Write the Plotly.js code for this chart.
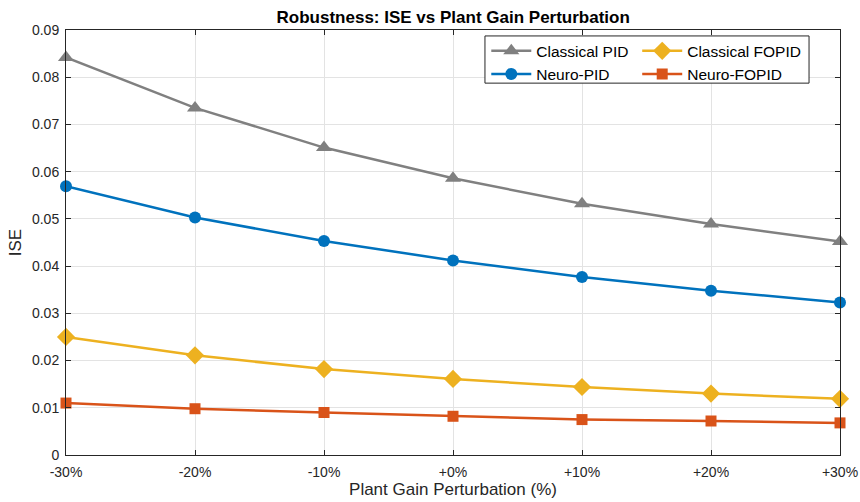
<!DOCTYPE html>
<html>
<head>
<meta charset="utf-8">
<script src="https://cdn.plot.ly/plotly-3.0.1.min.js"></script>
<style>
  html, body { margin: 0; padding: 0; background: #ffffff; }
  #chart { width: 860px; height: 502px; }
</style>
</head>
<body>
<div id="chart"></div>
<script>
// Plant gain perturbation levels (%) and their tick labels
const perturbation = [-30, -20, -10, 0, 10, 20, 30];
const tickLabels = ['-30%', '-20%', '-10%', '+0%', '+10%', '+20%', '+30%'];

// Integral of squared error for each controller
const classicalPID   = [0.0842, 0.0735, 0.0651, 0.0586, 0.0532, 0.0489, 0.0452];
const neuroPID       = [0.0569, 0.0503, 0.0453, 0.0412, 0.0377, 0.0348, 0.0323];
const classicalFOPID = [0.0250, 0.0211, 0.0182, 0.0161, 0.0144, 0.0130, 0.0119];
const neuroFOPID     = [0.0110, 0.0098, 0.0090, 0.0082, 0.0075, 0.0072, 0.0068];

const FONT = 'Liberation Sans, Arial, Helvetica, sans-serif';

function series(name, y, color, symbol, size, legend) {
  return {
    type: 'scatter', mode: 'lines+markers', name: name,
    x: perturbation, y: y,
    line: { color: color, width: 2.5 },
    marker: { color: color, symbol: symbol, size: size, line: { width: 0 } },
    cliponaxis: false,
    legend: legend
  };
}

const traces = [
  series('Classical PID', classicalPID, '#808080', 'triangle-up', 14, 'legend'),
  series('Neuro-PID', neuroPID, '#0072BD', 'circle', 12, 'legend'),
  series('Classical FOPID', classicalFOPID, '#EDB120', 'diamond', 14, 'legend2'),
  series('Neuro-FOPID', neuroFOPID, '#D95319', 'square', 11, 'legend2')
];

const axisCommon = {
  showline: true, linecolor: '#262626', linewidth: 1, mirror: 'ticks',
  ticks: 'inside', ticklen: 5, tickcolor: '#262626', tickwidth: 1,
  showgrid: true, gridcolor: '#e3e3e3', gridwidth: 1,
  zeroline: false,
  tickfont: { family: FONT, size: 14, color: '#262626' }
};

const layout = {
  width: 860, height: 502,
  margin: { l: 66, r: 20, t: 30, b: 47 },
  paper_bgcolor: '#ffffff', plot_bgcolor: '#ffffff',
  title: {
    text: '<b>Robustness: ISE vs Plant Gain Perturbation</b>',
    font: { family: FONT, size: 17, color: '#000000' },
    x: 0.527, xanchor: 'center', y: 0.966, yanchor: 'middle'
  },
  xaxis: Object.assign({}, axisCommon, {
    range: [-30, 30],
    tickmode: 'array', tickvals: perturbation, ticktext: tickLabels,
    ticklabelstandoff: 4,
    title: { text: 'Plant Gain Perturbation (%)', font: { family: FONT, size: 17, color: '#262626' }, standoff: 3 }
  }),
  yaxis: Object.assign({}, axisCommon, {
    range: [0, 0.09], dtick: 0.01, tick0: 0,
    ticklabelstandoff: 3,
    title: { text: 'ISE', font: { family: FONT, size: 17, color: '#262626' }, standoff: 6 }
  }),
  showlegend: true,
  legend: {
    x: 0.543, xanchor: 'left', y: 0.99, yanchor: 'top',
    bgcolor: 'rgba(0,0,0,0)', borderwidth: 0,
    font: { family: FONT, size: 15.5, color: '#000000' },
    itemwidth: 40, tracegroupgap: 0
  },
  legend2: {
    x: 0.738, xanchor: 'left', y: 0.99, yanchor: 'top',
    bgcolor: 'rgba(0,0,0,0)', borderwidth: 0,
    font: { family: FONT, size: 15.5, color: '#000000' },
    itemwidth: 40, tracegroupgap: 0
  },
  shapes: [{
    type: 'rect', xref: 'paper', yref: 'paper',
    x0: 0.5413, x1: 0.960, y0: 0.875, y1: 0.986,
    line: { color: '#262626', width: 1 }, fillcolor: '#ffffff', layer: 'above'
  }]
};

Plotly.newPlot('chart', traces, layout, { displayModeBar: false, staticPlot: true });
</script>
</body>
</html>
